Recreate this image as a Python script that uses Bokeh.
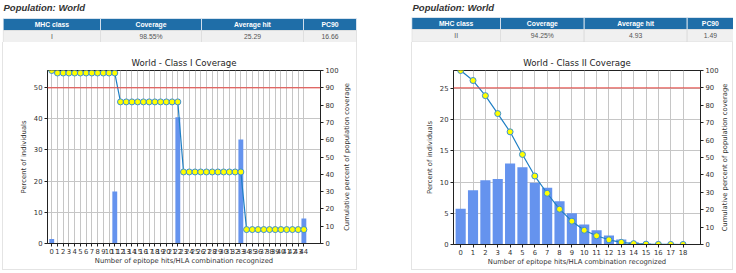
import math
from bokeh.plotting import figure
from bokeh.layouts import row, column
from bokeh.models import Range1d, LinearAxis, FixedTicker, Spacer, Span
from bokeh.core.properties import value
from bokeh.embed import file_html
from bokeh.resources import INLINE

# ---- data -------------------------------------------------------------
population = "World"
table_columns = ["MHC class", "Coverage", "Average hit", "PC90"]
class_i_summary = ["I", "98.55%", "25.29", "16.66"]
class_ii_summary = ["II", "94.25%", "4.93", "1.49"]

# Class I: percent of individuals per number of epitope hits
hits_i = list(range(45))
percent_i = [1.45, 0, 0, 0, 0, 0, 0, 0, 0, 0, 0,
             16.7, 0, 0, 0, 0, 0, 0, 0, 0, 0, 0,
             40.5, 0, 0, 0, 0, 0, 0, 0, 0, 0, 0,
             33.3, 0, 0, 0, 0, 0, 0, 0, 0, 0, 0,
             8.05]
cumulative_i = [100.0,
                98.55, 98.55, 98.55, 98.55, 98.55, 98.55, 98.55, 98.55, 98.55, 98.55, 98.55,
                81.85, 81.85, 81.85, 81.85, 81.85, 81.85, 81.85, 81.85, 81.85, 81.85, 81.85,
                41.35, 41.35, 41.35, 41.35, 41.35, 41.35, 41.35, 41.35, 41.35, 41.35, 41.35,
                8.05, 8.05, 8.05, 8.05, 8.05, 8.05, 8.05, 8.05, 8.05, 8.05, 8.05]
yticks_i = [0, 10, 20, 30, 40, 50]

# Class II
hits_ii = list(range(19))
percent_ii = [5.75, 8.7, 10.3, 10.5, 13.0, 12.4, 9.9, 9.1, 6.95, 5.0,
              3.2, 2.3, 1.45, 0.8, 0.35, 0.15, 0.05, 0.02, 0.01]
cumulative_ii = [100.0, 94.25, 85.55, 75.25, 64.75, 51.75, 39.35, 29.45, 20.3, 13.4,
                 8.2, 5.0, 2.7, 1.25, 0.5, 0.2, 0.08, 0.03, 0.01]
yticks_ii = [0, 5, 10, 15, 20, 25]

cumulative_ticks = [0, 10, 20, 30, 40, 50, 60, 70, 80, 90, 100]
target_coverage = 90
cumulative_label = "Cumulative percent of population coverage"

# ---- styling ----------------------------------------------------------
HEADER_BLUE = "#1f6ea8"
ROW_GREY = "#f0f0f0"
BAR_BLUE = "#6593ee"
LINE_BLUE = "#1f7fc4"
BOX_EDGE = "1px solid #e4e4e4"
TICK_FONT = "DejaVu Sans"
TABLE_FONT = "Liberation Sans"
CHART_H = 228


def bare_figure(width, height, **kw):
    p = figure(width=width, height=height, x_range=Range1d(0, width), y_range=Range1d(height, 0),
               output_backend="svg", toolbar_location=None, min_border=0,
               x_axis_type=None, y_axis_type=None, **kw)
    p.frame_align = False
    p.outline_line_color = None
    p.grid.visible = False
    return p


def header_panel(width, col_edges, summary, top):
    p = bare_figure(width, 42)
    p.text(x=[1], y=[7], text=[f"Population: {population}"],
           text_font=value(TABLE_FONT), text_font_style="bold italic",
           text_font_size="9.5px", text_color="#333333", text_baseline="middle")
    lefts = col_edges[:-1]
    rights = col_edges[1:]
    mids = [(a + b) / 2 for a, b in zip(lefts, rights)]
    n = len(lefts)
    p.quad(left=lefts, right=rights, top=[top] * n, bottom=[top + 12] * n,
           fill_color=HEADER_BLUE, line_color="#e8eef5", line_width=0.8)
    p.quad(left=lefts, right=rights, top=[top + 12] * n, bottom=[top + 24.5] * n,
           fill_color=ROW_GREY, line_color="#dcdcdc", line_width=0.8)
    p.text(x=mids, y=[top + 6.2] * n, text=table_columns, text_font=value(TABLE_FONT),
           text_font_style="bold", text_font_size="6.8px", text_color="white",
           text_align="center", text_baseline="middle")
    p.text(x=mids, y=[top + 18.3] * n, text=summary, text_font=value(TABLE_FONT),
           text_font_size="6.8px", text_color="#555555",
           text_align="center", text_baseline="middle")
    return p


def side_label_panel(width, cx, cy):
    # strip to the right of a chart carrying the cumulative-axis title
    p = bare_figure(width, CHART_H,
                    styles={"border-right": BOX_EDGE, "border-bottom": BOX_EDGE})
    p.text(x=[cx], y=[cy], text=[cumulative_label], angle=math.pi / 2,
           text_font=value(TICK_FONT), text_font_size="6.8px", text_color="#333333",
           text_align="center", text_baseline="middle")
    return p


def coverage_chart(width, title, hits, percent, cumulative, x_lo, x_hi, y_max, yticks,
                   mb_left, mb_right, mb_bottom, bar_width):
    p = figure(width=width, height=CHART_H, x_range=Range1d(x_lo, x_hi), y_range=Range1d(0, y_max),
               output_backend="svg", toolbar_location=None,
               min_border_left=mb_left, min_border_right=mb_right,
               min_border_top=28, min_border_bottom=mb_bottom,
               styles={"border-left": BOX_EDGE, "border-bottom": BOX_EDGE})
    p.frame_align = False
    p.title.text = title
    p.title.align = "center"
    p.title.text_font = TICK_FONT
    p.title.text_font_style = "normal"
    p.title.text_font_size = "8.6px"
    p.title.text_color = "#222222"
    p.title.standoff = 6
    p.outline_line_color = "#222222"
    p.outline_line_width = 1

    p.extra_y_ranges = {"cum": Range1d(0, 100)}
    right_axis = LinearAxis(y_range_name="cum", ticker=FixedTicker(ticks=cumulative_ticks))
    p.add_layout(right_axis, "right")

    p.xaxis.ticker = FixedTicker(ticks=hits)
    p.xaxis.axis_label = "Number of epitope hits/HLA combination recognized"
    p.yaxis[0].ticker = FixedTicker(ticks=yticks)
    p.yaxis[0].axis_label = "Percent of individuals"

    for ax in p.axis:
        ax.axis_line_color = "#222222"
        ax.major_tick_line_color = "#222222"
        ax.major_tick_out = 3
        ax.major_tick_in = 0
        ax.minor_tick_line_color = None
        ax.major_label_text_font = TICK_FONT
        ax.major_label_text_font_size = "6.8px"
        ax.major_label_text_color = "#333333"
        ax.major_label_standoff = 2
        ax.axis_label_text_font = TICK_FONT
        ax.axis_label_text_font_size = "6.8px"
        ax.axis_label_text_font_style = "normal"
        ax.axis_label_text_color = "#333333"
        ax.axis_label_standoff = 3
    p.xaxis.axis_label_standoff = 0

    p.xgrid.grid_line_color = "#c6c6c6"
    p.ygrid.grid_line_color = "#c6c6c6"
    p.xgrid.grid_line_width = 1
    p.ygrid.grid_line_width = 1

    p.vbar(x=hits, top=percent, width=bar_width, fill_color=BAR_BLUE, line_color=None)
    p.add_layout(Span(location=target_coverage, dimension="width", y_range_name="cum",
                      line_color="#e8413c", line_width=1))
    p.line(x=hits, y=cumulative, y_range_name="cum", line_color=LINE_BLUE, line_width=1.2)
    p.scatter(x=hits, y=cumulative, y_range_name="cum", size=6,
              fill_color="#ffff00", line_color="#3a8fd8", line_width=1)
    return p


left_head = header_panel(355, [0.7, 98, 199, 301, 354], class_i_summary, 18)
left_chart = coverage_chart(338, f"{population} - Class I Coverage", hits_i, percent_i, cumulative_i,
                            -0.74, 46.9, 55.45, yticks_i, 44, 18, 27, 0.85)
left_side = side_label_panel(17, 6.7, 114.5)

right_head = header_panel(322, [0.3, 89, 172.7, 275.7, 322], class_ii_summary, 17)
right_chart = coverage_chart(309, f"{population} - Class II Coverage", hits_ii, percent_ii, cumulative_ii,
                             -0.58, 19.41, 27.9, yticks_ii, 41, 18, 26, 0.82)
right_side = side_label_panel(13, 4.6, 115)

layout = row(Spacer(width=2, height=273),
             column(left_head, row(left_chart, left_side)),
             Spacer(width=54, height=273),
             column(right_head, row(right_chart, right_side)))

with open("out.html", "w") as f:
    f.write(file_html(layout, INLINE))
